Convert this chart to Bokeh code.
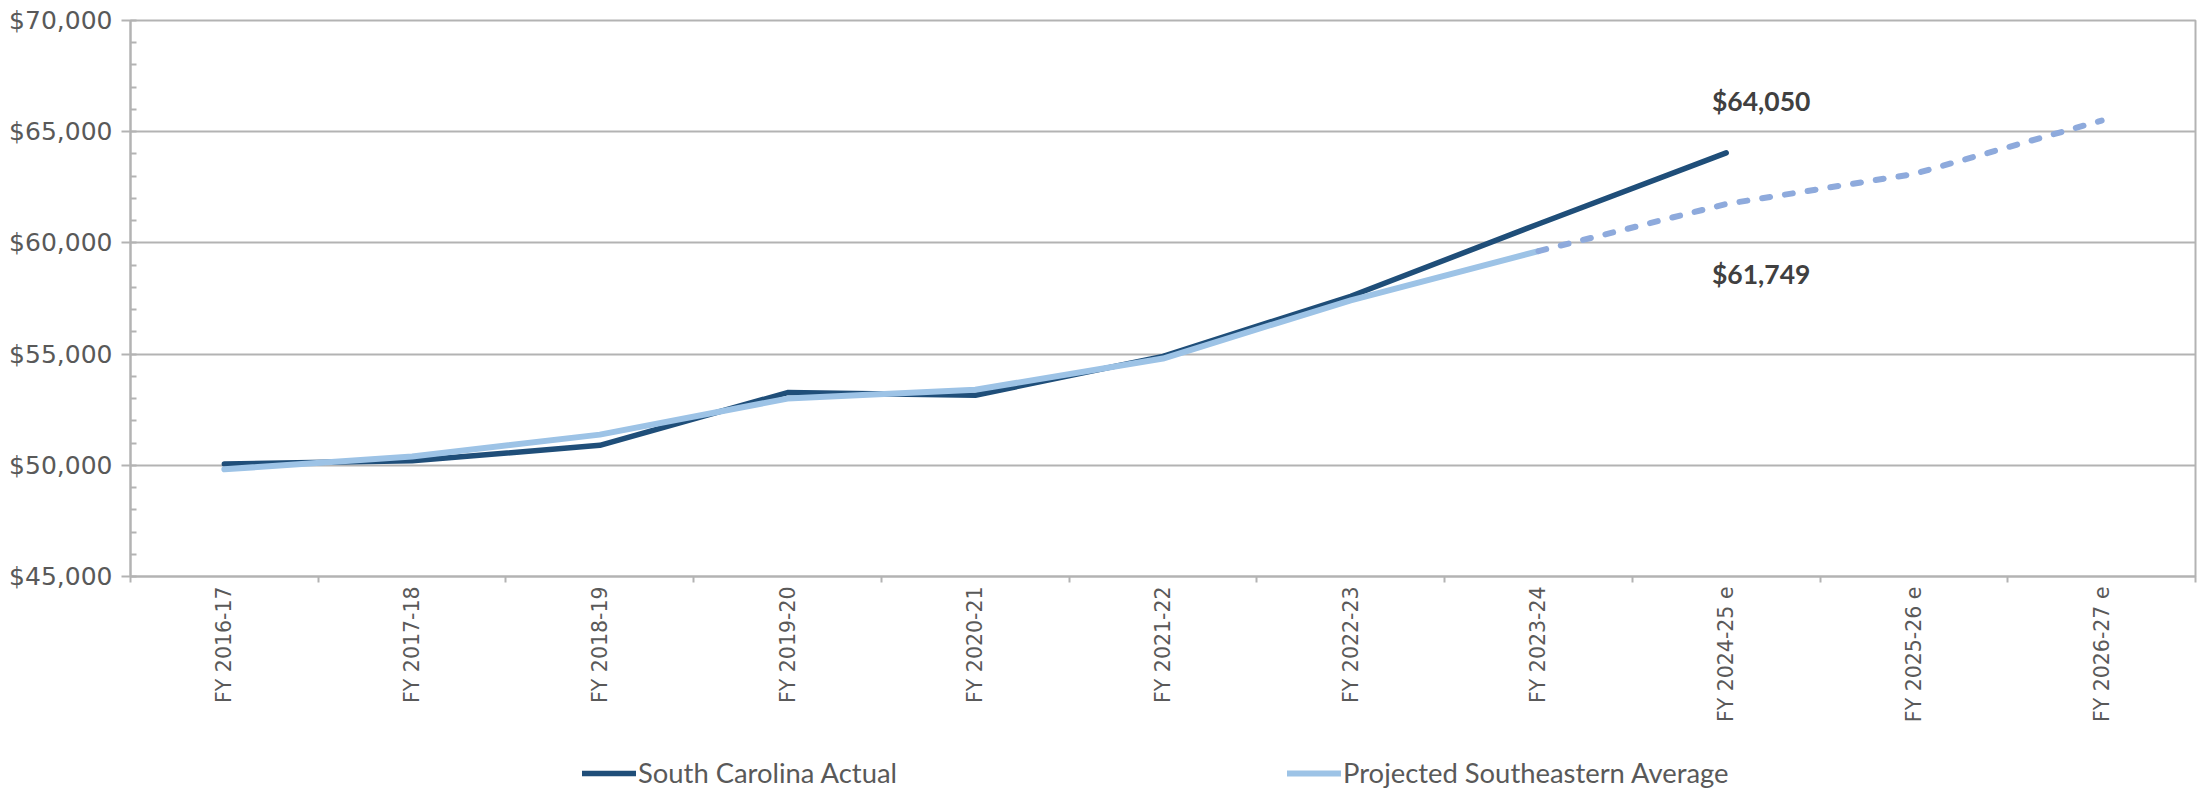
import math
from bokeh.plotting import figure
from bokeh.layouts import column
from bokeh.models import (Range1d, FixedTicker, SingleIntervalTicker, NumeralTickFormatter,
                          Legend, LegendItem, ColumnDataSource)
from bokeh.core.properties import value
from bokeh.embed import file_html
from bokeh.resources import INLINE

# ---------------- data ----------------
categories = ["FY 2016-17", "FY 2017-18", "FY 2018-19", "FY 2019-20", "FY 2020-21",
              "FY 2021-22", "FY 2022-23", "FY 2023-24", "FY 2024-25 e", "FY 2025-26 e",
              "FY 2026-27 e"]
sc_actual = [50060, 50200, 50900, 53270, 53150, 54900, 57600, 60850, 64050]
se_average = [49820, 50400, 51380, 53000, 53400, 54800, 57420, 59630, 61749, 63100, 65500]
se_last_actual = 7          # index of last non-projected Southeastern value
label_index = 8             # category carrying the data labels
y_ticks = [45000, 50000, 55000, 60000, 65000, 70000]
series_names = ["South Carolina Actual", "Projected Southeastern Average"]

# ---------------- styling ----------------
DARK = "#1f4e79"
LIGHT = "#9dc3e6"
DASHED = "#8eaadc"
GRID = "#b3b3b3"
TICK_TXT = "#595959"

pos = [i + 0.5 for i in range(len(categories))]

p = figure(width=2198, height=745, output_backend="svg", toolbar_location=None,
           x_range=Range1d(0, len(categories)), y_range=Range1d(y_ticks[0], y_ticks[-1]),
           min_border_left=130, min_border_right=3, min_border_top=20, min_border_bottom=169)
p.background_fill_color = "white"
p.border_fill_color = "white"
p.outline_line_color = GRID
p.outline_line_width = 2

# x axis: labels at category centres, tick marks at category boundaries
xa = p.xaxis[0]
xa.ticker = FixedTicker(ticks=pos, minor_ticks=list(range(len(categories) + 1)))
xa.major_label_overrides = {pv: c for pv, c in zip(pos, categories)}
xa.major_label_orientation = math.pi / 2
xa.major_tick_out = 0
xa.major_tick_in = 0
xa.minor_tick_out = 6
xa.minor_tick_in = 0
xa.minor_tick_line_color = GRID
xa.minor_tick_line_width = 2
xa.axis_line_color = GRID
xa.axis_line_width = 2
xa.major_label_standoff = 4
xa.major_label_text_font = "DejaVu Sans"
xa.major_label_text_font_size = "20.5px"
xa.major_label_text_color = TICK_TXT

ya = p.yaxis[0]
ya.ticker = SingleIntervalTicker(interval=5000, num_minor_ticks=5)
ya.formatter = NumeralTickFormatter(format="$0,0")
ya.major_tick_out = 9
ya.major_tick_in = 0
ya.minor_tick_out = 0
ya.minor_tick_in = 6
ya.major_tick_line_color = GRID
ya.major_tick_line_width = 2
ya.minor_tick_line_color = GRID
ya.minor_tick_line_width = 2
ya.axis_line_color = GRID
ya.axis_line_width = 2
ya.major_label_standoff = 9
ya.major_label_text_font = "DejaVu Sans"
ya.major_label_text_font_size = "25px"
ya.major_label_text_color = TICK_TXT

p.xgrid.visible = False
p.ygrid.grid_line_color = GRID
p.ygrid.grid_line_width = 2

# ---------------- lines ----------------
sc_src = ColumnDataSource(dict(x=pos[:len(sc_actual)], y=sc_actual))
se_src = ColumnDataSource(dict(x=pos[:se_last_actual + 1], y=se_average[:se_last_actual + 1]))
se_proj = ColumnDataSource(dict(x=pos[se_last_actual:], y=se_average[se_last_actual:]))

SC_STYLE = dict(line_color=DARK, line_width=5.5, line_cap="round", line_join="round")
SE_STYLE = dict(line_color=LIGHT, line_width=6, line_cap="round", line_join="round")

p.line("x", "y", source=sc_src, **SC_STYLE)
p.line("x", "y", source=se_src, **SE_STYLE)
p.line("x", "y", source=se_proj, line_color=DASHED, line_width=6,
       line_cap="round", line_join="round", line_dash="8 15")

# ---------------- data labels ----------------
LBL = dict(text_font=value("Lato"), text_font_style="bold", text_font_size="26.5px",
           text_color="#404040", text_align="center", text_baseline="middle")
p.text(x=[pos[label_index]], y=[sc_actual[label_index]],
       text=[f"${sc_actual[label_index]:,}"], x_offset=35, y_offset=-52, **LBL)
p.text(x=[pos[label_index]], y=[se_average[label_index]],
       text=[f"${se_average[label_index]:,}"], x_offset=35, y_offset=70, **LBL)

# ---------------- legend strip (series lines lie outside its view; only the key shows) ----
lf = figure(width=2198, height=44, output_backend="svg", toolbar_location=None,
            x_range=Range1d(0, 1), y_range=Range1d(0, 1),
            x_axis_type=None, y_axis_type=None,
            min_border_left=0, min_border_right=0, min_border_top=0, min_border_bottom=0)
lf.outline_line_color = None
lf.background_fill_color = "white"
lf.border_fill_color = "white"
lr_sc = lf.line("x", "y", source=sc_src, **SC_STYLE)
lr_se = lf.line("x", "y", source=se_src, **SE_STYLE)

legend = Legend(items=[LegendItem(label=series_names[0], renderers=[lr_sc]),
                       LegendItem(label=series_names[1], renderers=[lr_se])],
                location=(452, 0), orientation="horizontal", padding=0, margin=0,
                spacing=0, glyph_width=54, glyph_height=30, label_height=30,
                label_width=649, label_standoff=2,
                label_text_font="Lato", label_text_font_size="27.4px",
                label_text_color=TICK_TXT, label_text_baseline="middle",
                background_fill_alpha=0, border_line_alpha=0)
lf.add_layout(legend)

layout = column(p, lf, spacing=0)
open("out.html", "w").write(file_html(layout, INLINE))
